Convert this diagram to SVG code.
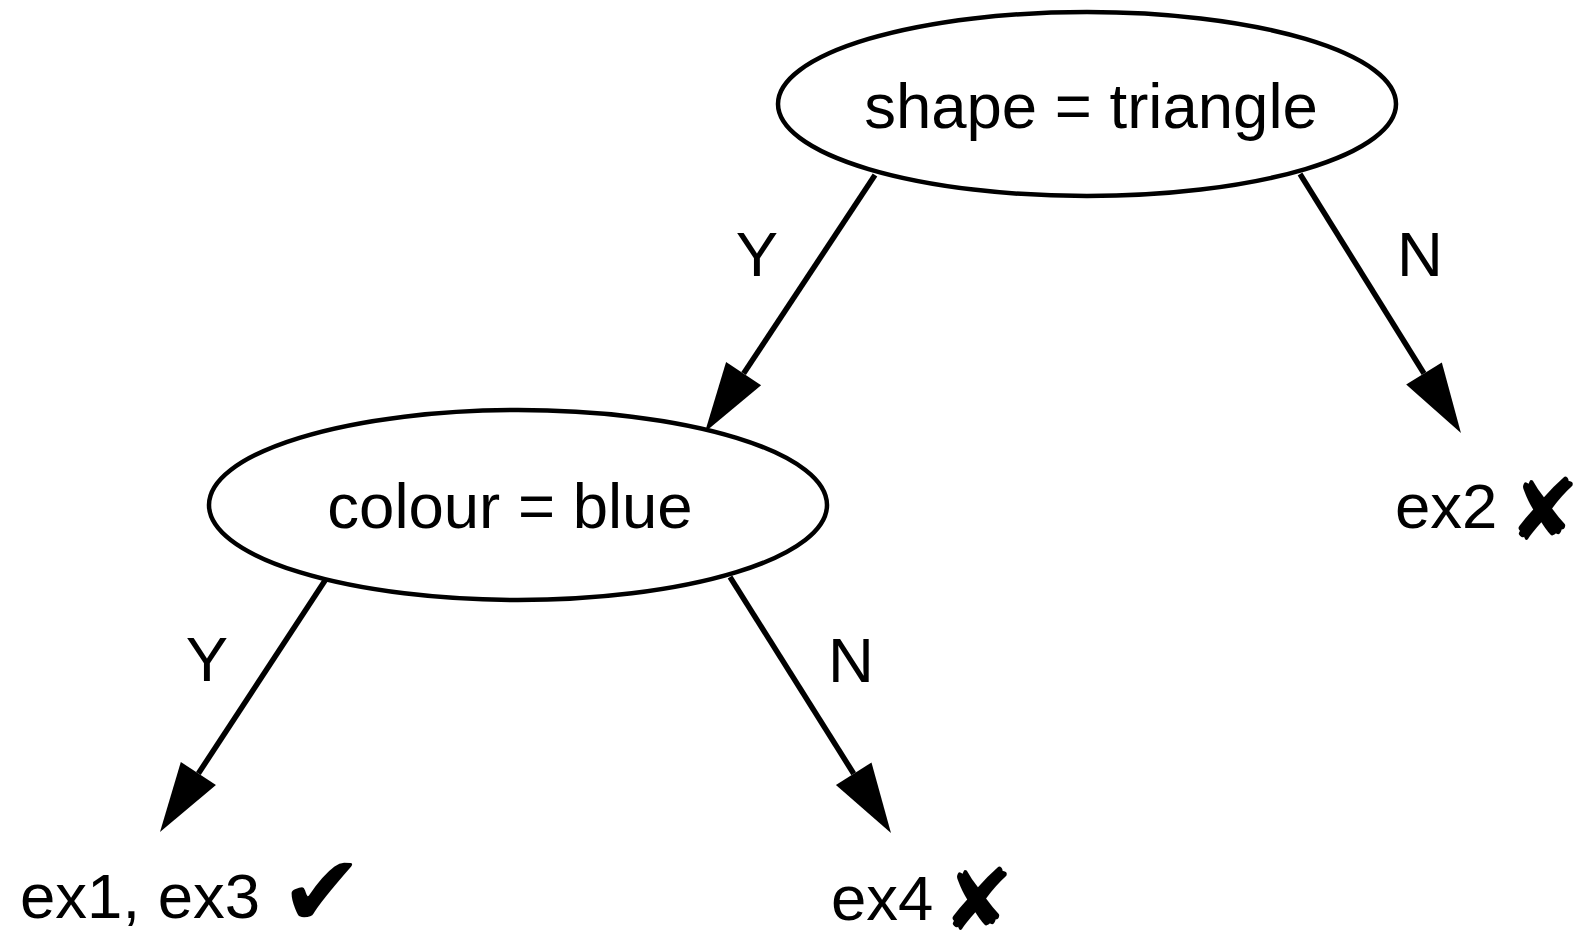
<svg xmlns="http://www.w3.org/2000/svg" width="1588" height="952" viewBox="0 0 1588 952">
<style>
.node{fill:#fff;stroke:#000;stroke-width:4.5}
.t{font-family:"Liberation Sans",Arial,sans-serif;font-size:63.5px;fill:#000}
.mk{font-family:"DejaVu Sans",sans-serif;font-size:86px}
.ck{font-family:"DejaVu Sans",sans-serif;font-size:100px}
.edge{stroke:#000;stroke-width:5.5;fill:none;marker-end:url(#ah)}
</style>
<defs>
<marker id="ah" markerUnits="userSpaceOnUse" markerWidth="72" markerHeight="44" refX="0" refY="21" orient="auto" overflow="visible">
<path d="M0,0 L70,21 L0,42 Z" fill="#000"/>
</marker>
</defs>
<rect width="1588" height="952" fill="#fff"/>
<g id="connectors">
<line class="edge" x1="875" y1="175" x2="743.6" y2="373.6"/>
<line class="edge" x1="1300" y1="174" x2="1424" y2="373.5"/>
<line class="edge" x1="326" y1="579" x2="198.4" y2="773.5"/>
<line class="edge" x1="730" y1="577" x2="853.7" y2="773.7"/>
<text class="t" x="757" y="276" text-anchor="middle">Y</text>
<text class="t" x="1420" y="276" text-anchor="middle">N</text>
<text class="t" x="207" y="681" text-anchor="middle">Y</text>
<text class="t" x="851" y="682" text-anchor="middle">N</text>
</g>
<g id="n-shape">
<ellipse class="node" cx="1087" cy="104" rx="309" ry="92"/>
<text class="t" x="1091" y="128" text-anchor="middle">shape = triangle</text>
</g>
<g id="n-colour">
<ellipse class="node" cx="518" cy="505" rx="309" ry="95"/>
<text class="t" x="510" y="528" text-anchor="middle">colour = blue</text>
</g>
<g id="n-ex2">
<text class="t" x="1395" y="528">ex2 <tspan class="mk" x="1508" y="540">✘</tspan></text>
</g>
<g id="n-ex13">
<text class="t" x="20" y="918">ex1, ex3 <tspan class="ck" x="280" y="926">✔</tspan></text>
</g>
<g id="n-ex4">
<text class="t" x="831" y="920">ex4 <tspan class="mk" x="942" y="930">✘</tspan></text>
</g>
</svg>
